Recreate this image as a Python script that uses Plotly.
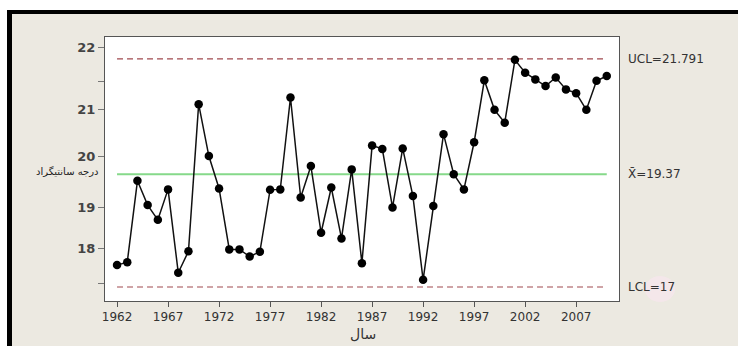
import plotly.graph_objects as go

# Annual mean temperature (degrees C), 1962-2010
years = list(range(1962, 2011))
temps = [
    17.46, 17.52, 19.23, 18.72, 18.41, 19.05, 17.30, 17.75, 20.84, 19.75,
    19.07, 17.79, 17.79, 17.64, 17.74, 19.04, 19.05, 20.98, 18.88, 19.54,
    18.14, 19.09, 18.02, 19.47, 17.50, 19.97, 19.90, 18.67, 19.91, 18.91,
    17.15, 18.70, 20.21, 19.37, 19.05, 20.04, 21.34, 20.72, 20.45, 21.77,
    21.50, 21.36, 21.22, 21.40, 21.15, 21.07, 20.72, 21.33, 21.43,
]

# Control limits
ucl = 21.791
center = 19.37
lcl = 17.0

x_tick_vals = [1962, 1967, 1972, 1977, 1982, 1987, 1992, 1997, 2002, 2007]
y_tick_vals = [22.04, 21.31, 20.73, 19.75, 18.67, 17.81, 17.08]
y_tick_text = ["22", "", "21", "20", "19", "18", ""]

BG = "#ECE9E1"
LIMIT_RED = "#A0484E"
MEAN_GREEN = "#86D98A"
TXT = "#333333"

fig = go.Figure()

fig.add_trace(go.Scatter(
    x=[years[0], years[-1]], y=[ucl, ucl], mode="lines",
    line=dict(color=LIMIT_RED, width=1.2, dash="6px,4px"), hoverinfo="skip",
))
fig.add_trace(go.Scatter(
    x=[years[0], years[-1]], y=[lcl, lcl], mode="lines",
    line=dict(color=LIMIT_RED, width=1.2, dash="6px,4px"), hoverinfo="skip",
))
fig.add_trace(go.Scatter(
    x=[years[0], years[-1]], y=[center, center], mode="lines",
    line=dict(color=MEAN_GREEN, width=2), hoverinfo="skip",
))
fig.add_trace(go.Scatter(
    x=years, y=temps, mode="lines+markers",
    line=dict(color="#111111", width=1.5),
    marker=dict(color="#000000", size=8.5, symbol="circle"),
))

# Control-limit labels on the right
for label, val in [("UCL=21.791", ucl), ("X\u0304=19.37", center), ("LCL=17", lcl)]:
    fig.add_annotation(
        x=1.014, xref="paper", y=val, yref="y", text=label, showarrow=False,
        xanchor="left", yanchor="middle",
        font=dict(family="DejaVu Sans", size=12, color=TXT),
    )

# Axis titles
fig.add_annotation(
    x=-0.008, xref="paper", y=0.52, yref="paper", text="درجه سانتیگراد",
    showarrow=False, xanchor="right", yanchor="top",
    font=dict(family="DejaVu Sans", size=10, color="#222222"),
)
fig.add_annotation(
    x=0.502, xref="paper", y=-0.125, yref="paper", text="سال",
    showarrow=False, xanchor="center", yanchor="middle",
    font=dict(family="DejaVu Sans", size=14, color=TXT),
)

# Frame: white page edge, thick black border, decorative pink blob
W, H = 738, 346
L, R, T, B = 105, 119, 37, 45
pw, ph = W - L - R, H - T - B


def px(x):
    return (x - L) / pw


def py(y):
    return (H - B - y) / ph


shapes = [
    dict(type="rect", xref="paper", yref="paper", x0=px(0), x1=px(W), y0=py(0), y1=py(10),
         fillcolor="white", line=dict(width=0)),
    dict(type="rect", xref="paper", yref="paper", x0=px(0), x1=px(7), y0=py(0), y1=py(H),
         fillcolor="white", line=dict(width=0)),
    dict(type="rect", xref="paper", yref="paper", x0=px(7), x1=px(W), y0=py(10), y1=py(14),
         fillcolor="black", line=dict(width=0)),
    dict(type="rect", xref="paper", yref="paper", x0=px(7), x1=px(12), y0=py(10), y1=py(H),
         fillcolor="black", line=dict(width=0)),
    dict(type="circle", xref="paper", yref="paper", x0=px(645), x1=px(675), y0=py(302), y1=py(276),
         fillcolor="#F6E6EC", line=dict(width=0), opacity=0.8),
]

fig.update_layout(
    width=W, height=H,
    margin=dict(l=L, r=R, t=T, b=B),
    paper_bgcolor=BG, plot_bgcolor="white",
    showlegend=False,
    shapes=shapes,
    xaxis=dict(
        range=[1960.82, 2011.2], tickvals=x_tick_vals, ticks="outside", ticklen=5,
        tickcolor="#555555", showgrid=False, zeroline=False,
        showline=True, linecolor="#555555", linewidth=1, mirror=True,
        tickfont=dict(family="DejaVu Sans", size=12, color=TXT),
    ),
    yaxis=dict(
        range=[16.706, 22.25], tickvals=y_tick_vals, ticktext=y_tick_text,
        ticks="outside", ticklen=6, tickcolor="#777777", showgrid=False, zeroline=False,
        showline=True, linecolor="#555555", linewidth=1, mirror=True,
        tickfont=dict(family="DejaVu Sans", size=13, color="#444444", weight="bold"),
    ),
)

fig.write_html("out.html")
